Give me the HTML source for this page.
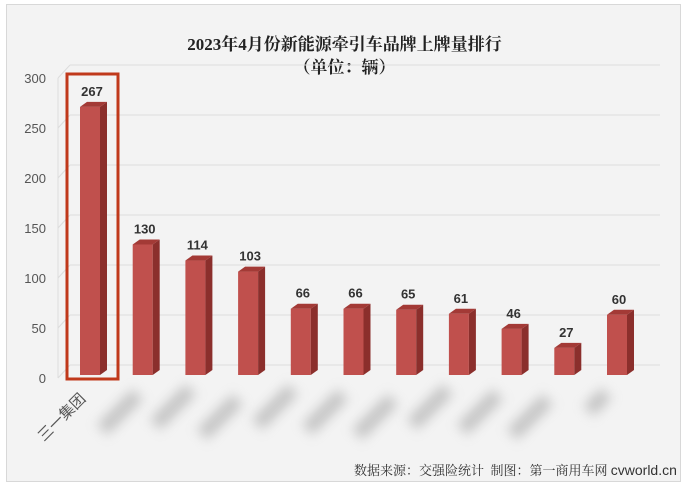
<!DOCTYPE html><html><head><meta charset="utf-8"><style>
body{margin:0;width:689px;height:487px;background:#fff;overflow:hidden;font-family:"Liberation Sans","Noto Sans CJK SC",sans-serif}
.frame{position:absolute;left:6px;top:4px;width:673px;height:476px;background:#f3f3f3;border:1px solid #d8d8d8}
.t{position:absolute;left:0;width:689px;text-align:center;font-family:"Liberation Serif","Noto Serif CJK SC",serif;font-weight:bold;font-size:17px;color:#222}
.blur{position:absolute;width:50px;height:14px;background:#9a9a9a;filter:blur(6px);transform:rotate(-45deg);opacity:.55}
</style></head><body>
<div class="frame"></div>
<div class="t" style="top:30px">2023年4月份新能源牵引车品牌上牌量排行</div>
<div class="t" style="top:53px">（单位：辆）</div>
<svg style="position:absolute;left:0;top:0" width="689" height="487">
<g stroke="#dcdcdc" stroke-width="1">
<line x1="70" y1="65" x2="660" y2="65"/><line x1="70" y1="115" x2="660" y2="115"/><line x1="70" y1="165" x2="660" y2="165"/><line x1="70" y1="215" x2="660" y2="215"/><line x1="70" y1="265" x2="660" y2="265"/><line x1="70" y1="315" x2="660" y2="315"/><line x1="70" y1="365" x2="660" y2="365"/>
<line x1="58" y1="78" x2="70" y2="65"/><line x1="58" y1="128" x2="70" y2="115"/><line x1="58" y1="178" x2="70" y2="165"/><line x1="58" y1="228" x2="70" y2="215"/><line x1="58" y1="278" x2="70" y2="265"/><line x1="58" y1="328" x2="70" y2="315"/><line x1="58" y1="378" x2="70" y2="365"/>
<line x1="58" y1="78" x2="58" y2="378"/>
</g>
<g font-size="13" fill="#555" text-anchor="end" font-family="Liberation Sans,sans-serif">
<text x="46" y="83">300</text><text x="46" y="133">250</text><text x="46" y="183">200</text><text x="46" y="233">150</text><text x="46" y="283">100</text><text x="46" y="333">50</text><text x="46" y="383">0</text></g>
<g id="bars" font-size="13" font-weight="bold" fill="#333" text-anchor="middle" font-family="Liberation Sans,sans-serif"></g>
<rect x="67" y="74" width="51" height="305" fill="none" stroke="#c0391b" stroke-width="3"/>
<text x="0" y="0" transform="translate(44,442) rotate(-45)" font-size="15" fill="#555" font-family="Noto Sans CJK SC,sans-serif">三一集团</text>
</svg>
<div class="blur" style="left:95px;top:405px"></div><div class="blur" style="left:148px;top:400px"></div><div class="blur" style="left:195px;top:410px"></div><div class="blur" style="left:250px;top:400px"></div><div class="blur" style="left:300px;top:405px"></div><div class="blur" style="left:350px;top:410px"></div><div class="blur" style="left:405px;top:400px"></div><div class="blur" style="left:455px;top:405px"></div><div class="blur" style="left:505px;top:410px"></div><div class="blur" style="left:585px;top:395px;width:25px"></div>
<div style="position:absolute;left:354px;top:460px;white-space:nowrap;font-size:13px;color:#333;font-family:'Liberation Serif','Noto Serif CJK SC',serif">数据来源：交强险统计&nbsp; 制图：第一商用车网 <span style="font-family:'Liberation Sans',sans-serif;font-size:14px">cvworld.cn</span></div>
<script>
var v=[267,130,114,103,66,66,65,61,46,27,60],g=document.getElementById('bars'),s='';
v.forEach(function(d,i){var x=80+i*52.7,b=375,t=b-d*1.004;
s+='<rect x="'+x+'" y="'+t+'" width="20" height="'+(b-t)+'" fill="#c0504d"/>';
s+='<polygon points="'+(x+20)+','+t+' '+(x+27)+','+(t-5)+' '+(x+27)+','+(b-5)+' '+(x+20)+','+b+'" fill="#8b2f2c"/>';
s+='<polygon points="'+x+','+t+' '+(x+7)+','+(t-5)+' '+(x+27)+','+(t-5)+' '+(x+20)+','+t+'" fill="#a33a36"/>';
s+='<text x="'+(x+12)+'" y="'+(t-11)+'">'+d+'</text>';});
g.innerHTML=s;
</script>
</body></html>
